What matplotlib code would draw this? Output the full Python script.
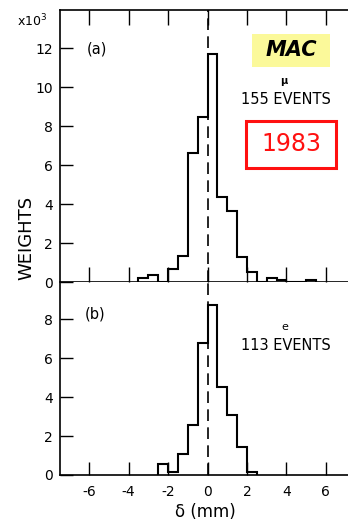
import matplotlib
matplotlib.use("Agg")
import matplotlib.pyplot as plt
import numpy as np
from matplotlib.patches import Rectangle

plt.rcParams['font.family'] = ['DejaVu Sans']
plt.rcParams['axes.unicode_minus'] = False

# Data: histogram bins of width 0.5 mm
mu_edges = [-3.5, -3.0, -2.5, -2.0, -1.5, -1.0, -0.5, 0.0, 0.5, 1.0, 1.5, 2.0, 2.5, 3.0, 3.5, 4.0, 4.5, 5.0, 5.5]
mu_weights = [0.22, 0.36, 0.0, 0.67, 1.33, 6.61, 8.46, 11.69, 4.38, 3.66, 1.30, 0.53, 0.0, 0.19, 0.10, 0.0, 0.0, 0.10]

e_edges = [-2.5, -2.0, -1.5, -1.0, -0.5, 0.0, 0.5, 1.0, 1.5, 2.0, 2.5]
e_weights = [0.57, 0.17, 1.08, 2.58, 6.79, 8.71, 4.52, 3.06, 1.43, 0.17]

x_ticks = [-6, -4, -2, 0, 2, 4, 6]
y_ticks_a = [0, 2, 4, 6, 8, 10, 12]
y_ticks_b = [0, 2, 4, 6, 8]

W, H = 348, 520
fig = plt.figure(figsize=(W / 100, H / 100), dpi=100)

left = 60 / W
width = 1.0 - left + 0.01
top_a, bot_a = 10, 282
bot_b = 475

ax_a = fig.add_axes([left, 1 - bot_a / H, width, (bot_a - top_a) / H])
ax_b = fig.add_axes([left, 1 - bot_b / H, width, (bot_b - bot_a) / H])

xlim = (-7.48, 7.3)
lw_hist = 1.5
for ax in (ax_a, ax_b):
    ax.set_xlim(*xlim)
    ax.spines['right'].set_visible(False)
    for s in ('left', 'top', 'bottom'):
        ax.spines[s].set_linewidth(1.2)
    ax.axvline(0, color='black', lw=1.2, dashes=(7, 3.8), zorder=1)
    ax.set_facecolor('none')

# Panel (a)
ax_a.stairs(mu_weights, mu_edges, color='black', lw=lw_hist, baseline=0)
ax_a.set_ylim(0, 13.97)
ax_a.set_yticks(y_ticks_a)
ax_a.set_xticks(x_ticks)
ax_a.tick_params(axis='x', which='both', direction='in', length=10.5, width=1.0,
                 top=True, bottom=True, labelbottom=False)
ax_a.tick_params(axis='y', direction='in', length=9.5, width=1.0, labelsize=10, pad=5,
                 right=False)
ax_a.spines['bottom'].set_visible(False)
ax_a.axhline(0, color='black', lw=1.2, zorder=3)

# Panel (b)
ax_b.stairs(e_weights, e_edges, color='black', lw=lw_hist, baseline=0)
ax_b.set_ylim(0, 9.91)
ax_b.set_yticks(y_ticks_b)
ax_b.set_xticks(x_ticks)
ax_b.tick_params(axis='x', direction='in', length=9.5, width=1.0, labelsize=10, pad=7,
                 top=False, bottom=True)
ax_b.tick_params(axis='y', direction='in', length=9.5, width=1.0, labelsize=10, pad=5,
                 right=False)
ax_b.spines['top'].set_visible(False)
ax_b.set_xlabel('δ (mm)', fontsize=12, labelpad=3)

# Texts
fig.text(17 / W, 1 - 21 / H, 'x10$^3$', fontsize=9, ha='left', va='center')
fig.text(26 / W, 1 - 238 / H, 'WEIGHTS', fontsize=13, rotation=90, ha='center', va='center')
fig.text(87 / W, 1 - 48.5 / H, '(a)', fontsize=10.5, ha='left', va='center')
fig.text(85 / W, 1 - 314 / H, '(b)', fontsize=10.5, ha='left', va='center')

# MAC label
fig.patches.append(Rectangle((252 / W, 1 - 67 / H), 78 / W, 33 / H, transform=fig.transFigure,
                             facecolor='#fbf99a', edgecolor='none', zorder=5))
fig.text(291 / W, 1 - 50 / H, 'MAC', fontsize=15, fontweight='bold', fontstyle='italic',
         ha='center', va='center', zorder=6)
fig.text(284 / W, 1 - 81 / H, 'μ', fontsize=7, fontweight='bold', ha='center', va='center')
fig.text(286 / W, 1 - 99 / H, '155 EVENTS', fontsize=10.5, ha='center', va='center')

# 1983 box
fig.patches.append(Rectangle((246 / W, 1 - 168 / H), 90 / W, 47 / H, transform=fig.transFigure,
                             facecolor='white', edgecolor='#ff1010', lw=2.2, zorder=5))
fig.text(291 / W, 1 - 144 / H, '1983', fontsize=17, color='#ff1010', ha='center', va='center', zorder=6)

fig.text(285 / W, 1 - 327 / H, 'e', fontsize=8, ha='center', va='center')
fig.text(286 / W, 1 - 345 / H, '113 EVENTS', fontsize=10.5, ha='center', va='center')

fig.savefig('out.png', dpi=100)
